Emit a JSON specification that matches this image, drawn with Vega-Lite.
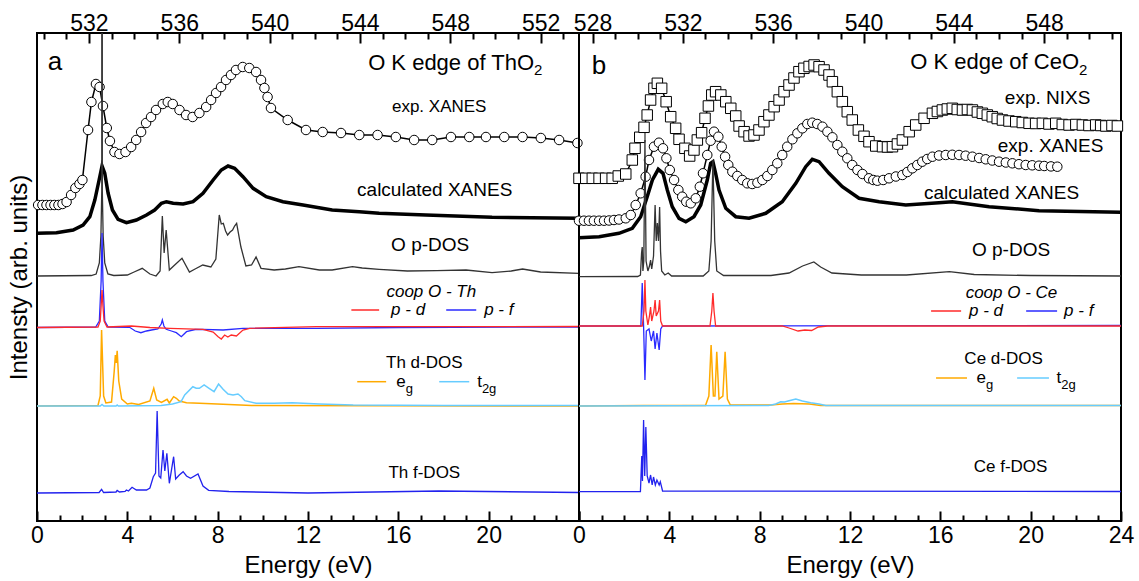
{
"$schema": "https://vega.github.io/schema/vega-lite/v6.json",
"padding": {"left": 6, "top": 7, "right": 3, "bottom": 2},
"spacing": 0,
"bounds": "flush",
"config": {
  "font": "Liberation Sans",
  "view": {"stroke": "black", "strokeWidth": 2},
  "axis": {"labelFont": "Liberation Sans", "titleFont": "Liberation Sans", "labelColor": "black", "titleColor": "black", "tickColor": "black", "tickWidth": 2, "domain": false, "grid": false, "labelFlush": false, "labelOverlap": false, "labelFontSize": 23, "titleFontSize": 24, "titleFontWeight": "normal"}
},
"resolve": {"scale": {"x": "independent", "y": "independent", "color": "independent"}},
"datasets": {
  "Th_exp": [{"E":0.05,"Y":316},{"E":0.24,"Y":316},{"E":0.42,"Y":316},{"E":0.6,"Y":316},{"E":0.77,"Y":316},{"E":0.95,"Y":316},{"E":1.13,"Y":317},{"E":1.31,"Y":319},{"E":1.51,"Y":326},{"E":1.7,"Y":333},{"E":1.88,"Y":337},{"E":2.01,"Y":341},{"E":2.26,"Y":391},{"E":2.41,"Y":419},{"E":2.61,"Y":437},{"E":2.77,"Y":434},{"E":2.92,"Y":415},{"E":3.09,"Y":393},{"E":3.23,"Y":380},{"E":3.43,"Y":369},{"E":3.65,"Y":367},{"E":3.92,"Y":369},{"E":4.17,"Y":374},{"E":4.39,"Y":381},{"E":4.61,"Y":389},{"E":4.83,"Y":398},{"E":5.05,"Y":404},{"E":5.27,"Y":411},{"E":5.57,"Y":417},{"E":5.79,"Y":419},{"E":6.01,"Y":417},{"E":6.31,"Y":411},{"E":6.6,"Y":406},{"E":6.89,"Y":404},{"E":7.19,"Y":408},{"E":7.49,"Y":414},{"E":7.71,"Y":421},{"E":7.93,"Y":428},{"E":8.15,"Y":434},{"E":8.37,"Y":441},{"E":8.59,"Y":446},{"E":8.81,"Y":451},{"E":9.11,"Y":454},{"E":9.4,"Y":453},{"E":9.7,"Y":449},{"E":9.92,"Y":441},{"E":10.07,"Y":433},{"E":10.21,"Y":424},{"E":10.36,"Y":413},{"E":11.1,"Y":401},{"E":11.91,"Y":391},{"E":12.65,"Y":389},{"E":13.46,"Y":388},{"E":14.27,"Y":386},{"E":15.08,"Y":386},{"E":15.89,"Y":384},{"E":16.7,"Y":381},{"E":17.5,"Y":381},{"E":18.33,"Y":384},{"E":19.14,"Y":384},{"E":19.88,"Y":384},{"E":20.69,"Y":384},{"E":21.5,"Y":384},{"E":22.31,"Y":383},{"E":23.12,"Y":381},{"E":23.93,"Y":378}],
  "Th_calc": [{"E":0,"Y":287.7},{"E":0.86,"Y":288.3},{"E":1.6,"Y":291},{"E":2.04,"Y":296},{"E":2.34,"Y":304.3},{"E":2.56,"Y":321},{"E":2.75,"Y":341},{"E":2.88,"Y":355},{"E":3.0,"Y":347.7},{"E":3.15,"Y":327.7},{"E":3.34,"Y":311},{"E":3.59,"Y":301.7},{"E":3.96,"Y":298.3},{"E":4.4,"Y":301},{"E":4.85,"Y":306},{"E":5.21,"Y":311},{"E":5.51,"Y":317.7},{"E":5.73,"Y":319.3},{"E":6.03,"Y":317.7},{"E":6.47,"Y":317},{"E":6.91,"Y":319.3},{"E":7.35,"Y":327.7},{"E":7.8,"Y":341},{"E":8.16,"Y":351},{"E":8.46,"Y":355},{"E":8.75,"Y":352.7},{"E":9.12,"Y":344.3},{"E":9.57,"Y":332.7},{"E":10.15,"Y":324.3},{"E":10.89,"Y":319.3},{"E":11.78,"Y":316},{"E":13.07,"Y":311},{"E":14.27,"Y":309.3},{"E":15.15,"Y":307.7},{"E":17.22,"Y":306},{"E":20.15,"Y":303.7},{"E":24,"Y":302.7}],
  "Th_op": [{"E":0,"Y":245},{"E":2.4,"Y":245.5},{"E":2.62,"Y":247},{"E":2.76,"Y":258},{"E":2.83,"Y":285},{"E":2.868,"Y":330},{"E":2.88,"Y":3000},{"E":2.892,"Y":330},{"E":2.93,"Y":285},{"E":3.0,"Y":258},{"E":3.14,"Y":247},{"E":3.4,"Y":245.5},{"E":4.0,"Y":246},{"E":4.3,"Y":249},{"E":4.66,"Y":252.7},{"E":5.0,"Y":247},{"E":5.27,"Y":245},{"E":5.45,"Y":250},{"E":5.55,"Y":305},{"E":5.63,"Y":268},{"E":5.72,"Y":291},{"E":5.86,"Y":251},{"E":6.05,"Y":255},{"E":6.42,"Y":262.7},{"E":6.75,"Y":249},{"E":7.0,"Y":252},{"E":7.34,"Y":256},{"E":7.7,"Y":254},{"E":7.92,"Y":262},{"E":8.07,"Y":306},{"E":8.16,"Y":297},{"E":8.25,"Y":297.7},{"E":8.35,"Y":290},{"E":8.44,"Y":286},{"E":8.55,"Y":289},{"E":8.66,"Y":291},{"E":8.75,"Y":295},{"E":8.84,"Y":297.7},{"E":9.03,"Y":274},{"E":9.25,"Y":255},{"E":9.5,"Y":256},{"E":9.7,"Y":264},{"E":9.92,"Y":252.7},{"E":10.5,"Y":251},{"E":11.0,"Y":252},{"E":11.6,"Y":254.3},{"E":12.5,"Y":251},{"E":13.07,"Y":251},{"E":13.97,"Y":254.3},{"E":14.4,"Y":253},{"E":15.15,"Y":251.7},{"E":16.4,"Y":250},{"E":17.7,"Y":250.3},{"E":19.0,"Y":251},{"E":20.15,"Y":248.3},{"E":21.0,"Y":250},{"E":21.5,"Y":252},{"E":22.3,"Y":249},{"E":24,"Y":247.7}],
  "Th_pf": [{"E":0,"Y":193.5},{"E":2.6,"Y":194},{"E":2.76,"Y":200},{"E":2.84,"Y":240},{"E":2.88,"Y":288},{"E":2.92,"Y":240},{"E":3.0,"Y":200},{"E":3.15,"Y":194},{"E":4.1,"Y":193.7},{"E":4.35,"Y":190},{"E":4.6,"Y":188.3},{"E":4.85,"Y":190},{"E":5.07,"Y":191},{"E":5.35,"Y":192},{"E":5.5,"Y":197},{"E":5.55,"Y":201},{"E":5.62,"Y":195},{"E":5.72,"Y":191.7},{"E":5.95,"Y":190},{"E":6.17,"Y":188.3},{"E":6.39,"Y":184.3},{"E":6.62,"Y":189.3},{"E":7.0,"Y":191.5},{"E":7.35,"Y":191.7},{"E":8.24,"Y":191},{"E":9.12,"Y":192.7},{"E":12.37,"Y":192.7},{"E":16,"Y":193.5},{"E":24,"Y":194}],
  "Th_pd": [{"E":0,"Y":193.5},{"E":2.7,"Y":194},{"E":2.8,"Y":200},{"E":2.84,"Y":215},{"E":2.88,"Y":231},{"E":2.92,"Y":215},{"E":2.97,"Y":200},{"E":3.1,"Y":194},{"E":4.18,"Y":195},{"E":5.0,"Y":193.5},{"E":5.88,"Y":192.7},{"E":7.35,"Y":191.7},{"E":7.8,"Y":189},{"E":8.02,"Y":184.3},{"E":8.16,"Y":182},{"E":8.31,"Y":186},{"E":8.45,"Y":184},{"E":8.6,"Y":186},{"E":8.83,"Y":185},{"E":9.12,"Y":191},{"E":9.42,"Y":192.7},{"E":12.37,"Y":194.3},{"E":24,"Y":194.5}],
  "Th_eg": [{"E":0,"Y":115},{"E":2.7,"Y":115.5},{"E":2.8,"Y":125},{"E":2.86,"Y":191},{"E":2.95,"Y":125},{"E":3.05,"Y":118},{"E":3.3,"Y":119},{"E":3.42,"Y":150},{"E":3.47,"Y":166},{"E":3.51,"Y":158},{"E":3.55,"Y":170.3},{"E":3.62,"Y":140},{"E":3.75,"Y":122},{"E":4.0,"Y":117},{"E":4.18,"Y":117.7},{"E":4.5,"Y":116.5},{"E":5.0,"Y":120},{"E":5.17,"Y":132.7},{"E":5.3,"Y":121},{"E":5.51,"Y":118.5},{"E":5.76,"Y":121.7},{"E":5.86,"Y":118},{"E":6.05,"Y":124.3},{"E":6.17,"Y":122.7},{"E":6.3,"Y":120},{"E":6.62,"Y":118.3},{"E":7.2,"Y":117.7},{"E":8.24,"Y":116.7},{"E":9.5,"Y":115.5},{"E":24,"Y":115}],
  "Th_t2g": [{"E":0,"Y":115},{"E":2.8,"Y":115},{"E":2.88,"Y":116.5},{"E":2.96,"Y":115},{"E":3.5,"Y":115},{"E":3.55,"Y":116},{"E":3.6,"Y":115},{"E":5.5,"Y":115.5},{"E":6.0,"Y":117},{"E":6.38,"Y":119.3},{"E":6.54,"Y":126},{"E":6.9,"Y":134.3},{"E":7.05,"Y":132.7},{"E":7.19,"Y":132.7},{"E":7.4,"Y":136},{"E":7.62,"Y":132.7},{"E":7.84,"Y":129.3},{"E":8.04,"Y":137},{"E":8.24,"Y":131.7},{"E":8.46,"Y":127},{"E":8.68,"Y":126},{"E":8.9,"Y":127},{"E":9.05,"Y":124.3},{"E":9.2,"Y":120.3},{"E":9.7,"Y":117.7},{"E":10.5,"Y":117.7},{"E":11.3,"Y":118.3},{"E":12.5,"Y":117},{"E":14,"Y":116},{"E":18,"Y":115.5},{"E":24,"Y":115.5}],
  "Th_f": [{"E":0,"Y":28},{"E":2.75,"Y":28.5},{"E":2.86,"Y":31.7},{"E":2.95,"Y":28.5},{"E":3.5,"Y":29},{"E":3.55,"Y":30.5},{"E":3.65,"Y":29},{"E":3.9,"Y":29.5},{"E":3.96,"Y":31},{"E":4.05,"Y":30},{"E":4.21,"Y":33.7},{"E":4.4,"Y":31},{"E":4.85,"Y":31},{"E":5.0,"Y":33},{"E":5.15,"Y":44.3},{"E":5.25,"Y":48},{"E":5.32,"Y":110},{"E":5.4,"Y":45},{"E":5.48,"Y":43},{"E":5.58,"Y":71},{"E":5.66,"Y":50},{"E":5.75,"Y":67.7},{"E":5.86,"Y":37.7},{"E":6.05,"Y":64.3},{"E":6.14,"Y":42},{"E":6.3,"Y":46},{"E":6.47,"Y":49.3},{"E":6.62,"Y":45},{"E":6.8,"Y":42.7},{"E":7.13,"Y":47},{"E":7.35,"Y":35},{"E":7.6,"Y":30.7},{"E":8.5,"Y":29.5},{"E":12,"Y":28},{"E":17.8,"Y":30},{"E":24,"Y":28.5}],
  "Ce_nixs": [{"E":0,"Y":342.7},{"E":0.3,"Y":342.7},{"E":0.59,"Y":342.7},{"E":0.89,"Y":342.7},{"E":1.18,"Y":342.7},{"E":1.47,"Y":342.7},{"E":1.74,"Y":345},{"E":2.07,"Y":347},{"E":2.36,"Y":361},{"E":2.48,"Y":372.7},{"E":2.69,"Y":383.7},{"E":2.88,"Y":393.7},{"E":3.02,"Y":406},{"E":3.17,"Y":421},{"E":3.32,"Y":432.7},{"E":3.47,"Y":437.7},{"E":3.66,"Y":432.7},{"E":3.86,"Y":419.3},{"E":4.06,"Y":404.3},{"E":4.28,"Y":392.7},{"E":4.43,"Y":381.7},{"E":4.69,"Y":372.7},{"E":4.9,"Y":365},{"E":5.09,"Y":371},{"E":5.24,"Y":381},{"E":5.43,"Y":388.3},{"E":5.58,"Y":402.7},{"E":5.73,"Y":415},{"E":5.88,"Y":426},{"E":6.05,"Y":429.3},{"E":6.28,"Y":426},{"E":6.5,"Y":419.3},{"E":6.72,"Y":412.7},{"E":6.94,"Y":405},{"E":7.09,"Y":395},{"E":7.31,"Y":389.3},{"E":7.53,"Y":385},{"E":7.75,"Y":386},{"E":7.97,"Y":391},{"E":8.19,"Y":399.3},{"E":8.41,"Y":406},{"E":8.64,"Y":414.3},{"E":8.86,"Y":421},{"E":9.08,"Y":429.3},{"E":9.3,"Y":436},{"E":9.52,"Y":443},{"E":9.74,"Y":449.3},{"E":9.96,"Y":452.7},{"E":10.19,"Y":454.5},{"E":10.41,"Y":456},{"E":10.63,"Y":454.3},{"E":10.85,"Y":451},{"E":11.07,"Y":446},{"E":11.22,"Y":439.3},{"E":11.44,"Y":429.3},{"E":11.66,"Y":419.3},{"E":11.88,"Y":409.3},{"E":12.1,"Y":401},{"E":12.37,"Y":391},{"E":12.62,"Y":384.7},{"E":12.84,"Y":379.3},{"E":13.14,"Y":375},{"E":13.44,"Y":374.3},{"E":13.66,"Y":374},{"E":13.88,"Y":374.3},{"E":14.1,"Y":377},{"E":14.32,"Y":381},{"E":14.62,"Y":389.3},{"E":14.91,"Y":396},{"E":15.28,"Y":402.7},{"E":15.65,"Y":407.7},{"E":15.87,"Y":409.5},{"E":16.09,"Y":411},{"E":16.31,"Y":412},{"E":16.53,"Y":412.7},{"E":16.75,"Y":411.5},{"E":16.98,"Y":411},{"E":17.2,"Y":411.5},{"E":17.42,"Y":411},{"E":17.64,"Y":409},{"E":17.86,"Y":407.7},{"E":18.08,"Y":406},{"E":18.3,"Y":404.3},{"E":18.52,"Y":402.5},{"E":18.75,"Y":401},{"E":19.04,"Y":400},{"E":19.34,"Y":399.3},{"E":19.63,"Y":398.5},{"E":19.93,"Y":397.7},{"E":20.22,"Y":397.5},{"E":20.52,"Y":397.7},{"E":20.81,"Y":397},{"E":21.11,"Y":397.7},{"E":21.4,"Y":396.5},{"E":21.7,"Y":396},{"E":22.0,"Y":396.5},{"E":22.29,"Y":396},{"E":22.58,"Y":395.5},{"E":22.88,"Y":396},{"E":23.1,"Y":395.5},{"E":23.33,"Y":395},{"E":23.6,"Y":395.5},{"E":23.84,"Y":395}],
  "Ce_exp": [{"E":0,"Y":300.3},{"E":0.22,"Y":300.3},{"E":0.44,"Y":300.3},{"E":0.66,"Y":300.3},{"E":0.89,"Y":300.3},{"E":1.11,"Y":300.3},{"E":1.33,"Y":300.5},{"E":1.55,"Y":301},{"E":1.77,"Y":301.5},{"E":2.07,"Y":302.7},{"E":2.29,"Y":306},{"E":2.51,"Y":316},{"E":2.73,"Y":327.7},{"E":2.95,"Y":344.3},{"E":3.1,"Y":361},{"E":3.32,"Y":374.3},{"E":3.54,"Y":378.3},{"E":3.72,"Y":372.7},{"E":3.87,"Y":362.7},{"E":4.02,"Y":351},{"E":4.21,"Y":341},{"E":4.4,"Y":331},{"E":4.57,"Y":324.3},{"E":4.75,"Y":319.3},{"E":4.95,"Y":317.7},{"E":5.17,"Y":322.7},{"E":5.35,"Y":334.3},{"E":5.49,"Y":347.7},{"E":5.68,"Y":366},{"E":5.83,"Y":380.3},{"E":5.98,"Y":389.3},{"E":6.17,"Y":384.3},{"E":6.32,"Y":374.3},{"E":6.47,"Y":364.3},{"E":6.61,"Y":356},{"E":6.79,"Y":349.3},{"E":7.01,"Y":345},{"E":7.23,"Y":341},{"E":7.45,"Y":337.7},{"E":7.67,"Y":337},{"E":7.9,"Y":338.3},{"E":8.12,"Y":341},{"E":8.34,"Y":345},{"E":8.56,"Y":351},{"E":8.78,"Y":357.7},{"E":9.0,"Y":366},{"E":9.22,"Y":374.3},{"E":9.45,"Y":381.7},{"E":9.67,"Y":387.7},{"E":9.89,"Y":392.7},{"E":10.11,"Y":397},{"E":10.33,"Y":398.3},{"E":10.55,"Y":397},{"E":10.78,"Y":394.3},{"E":11.0,"Y":389.3},{"E":11.22,"Y":383.7},{"E":11.44,"Y":376},{"E":11.66,"Y":369.3},{"E":11.88,"Y":362.7},{"E":12.1,"Y":356},{"E":12.33,"Y":351},{"E":12.55,"Y":347},{"E":12.84,"Y":342.7},{"E":13.03,"Y":341},{"E":13.21,"Y":340.3},{"E":13.47,"Y":341},{"E":13.73,"Y":342.7},{"E":14.03,"Y":344.5},{"E":14.32,"Y":346},{"E":14.54,"Y":349},{"E":14.76,"Y":352.7},{"E":14.98,"Y":356},{"E":15.2,"Y":359.3},{"E":15.42,"Y":362},{"E":15.65,"Y":364.3},{"E":15.94,"Y":365.5},{"E":16.24,"Y":366},{"E":16.53,"Y":366.2},{"E":16.83,"Y":366},{"E":17.12,"Y":365.3},{"E":17.42,"Y":364.3},{"E":17.72,"Y":363},{"E":18.01,"Y":361.7},{"E":18.3,"Y":360.5},{"E":18.6,"Y":359.3},{"E":18.9,"Y":358.5},{"E":19.19,"Y":357.7},{"E":19.48,"Y":356.8},{"E":19.78,"Y":356},{"E":20.07,"Y":355.7},{"E":20.37,"Y":355.3},{"E":20.6,"Y":355},{"E":20.9,"Y":354.6},{"E":21.18,"Y":354.3}],
  "Ce_calc": [{"E":0,"Y":283.3},{"E":0.89,"Y":284.3},{"E":1.77,"Y":287.7},{"E":2.36,"Y":292.7},{"E":2.73,"Y":304.3},{"E":3.02,"Y":324.3},{"E":3.25,"Y":341},{"E":3.51,"Y":351.7},{"E":3.72,"Y":347.7},{"E":3.91,"Y":331},{"E":4.13,"Y":314.3},{"E":4.43,"Y":302.7},{"E":4.73,"Y":299.3},{"E":5.09,"Y":304.3},{"E":5.39,"Y":316},{"E":5.68,"Y":341},{"E":5.83,"Y":357.7},{"E":5.93,"Y":359.3},{"E":6.05,"Y":347.7},{"E":6.2,"Y":331},{"E":6.5,"Y":312.7},{"E":6.94,"Y":304.3},{"E":7.53,"Y":302.7},{"E":8.27,"Y":307.7},{"E":9.0,"Y":319.3},{"E":9.6,"Y":337.7},{"E":10.04,"Y":354.3},{"E":10.33,"Y":361.7},{"E":10.63,"Y":359.3},{"E":11.07,"Y":347.7},{"E":11.66,"Y":334.3},{"E":12.4,"Y":322.7},{"E":13.29,"Y":319.3},{"E":14.47,"Y":316},{"E":15.94,"Y":318.3},{"E":16.53,"Y":319.3},{"E":18.16,"Y":314.3},{"E":20.37,"Y":310.3},{"E":24,"Y":308.7}],
  "Ce_op": [{"E":0,"Y":244.3},{"E":2.6,"Y":244.5},{"E":2.72,"Y":246},{"E":2.77,"Y":268},{"E":2.8,"Y":274},{"E":2.83,"Y":250},{"E":2.87,"Y":260},{"E":2.92,"Y":381},{"E":2.97,"Y":260},{"E":3.05,"Y":250},{"E":3.12,"Y":255},{"E":3.17,"Y":261},{"E":3.22,"Y":252},{"E":3.3,"Y":265},{"E":3.37,"Y":316},{"E":3.42,"Y":280},{"E":3.47,"Y":298},{"E":3.52,"Y":280},{"E":3.57,"Y":314},{"E":3.61,"Y":270},{"E":3.66,"Y":250},{"E":3.8,"Y":246},{"E":3.95,"Y":248},{"E":4.1,"Y":245},{"E":5.5,"Y":245},{"E":5.75,"Y":250},{"E":5.85,"Y":280},{"E":5.93,"Y":361},{"E":6.01,"Y":280},{"E":6.1,"Y":250},{"E":6.4,"Y":245.5},{"E":8.5,"Y":245.5},{"E":9.3,"Y":248},{"E":9.9,"Y":255},{"E":10.4,"Y":259},{"E":10.7,"Y":254},{"E":11.2,"Y":248},{"E":12.5,"Y":246},{"E":14.5,"Y":246},{"E":16.4,"Y":249.3},{"E":17.5,"Y":246.5},{"E":20,"Y":245.5},{"E":24,"Y":245}],
  "Ce_pd": [{"E":0,"Y":195},{"E":2.8,"Y":195},{"E":2.88,"Y":210},{"E":2.92,"Y":241},{"E":2.96,"Y":210},{"E":3.05,"Y":196},{"E":3.12,"Y":205},{"E":3.17,"Y":214},{"E":3.22,"Y":200},{"E":3.32,"Y":210},{"E":3.37,"Y":221},{"E":3.42,"Y":205},{"E":3.52,"Y":210},{"E":3.57,"Y":221},{"E":3.62,"Y":200},{"E":3.7,"Y":195},{"E":5.8,"Y":195},{"E":5.88,"Y":210},{"E":5.93,"Y":228},{"E":5.98,"Y":210},{"E":6.05,"Y":195},{"E":9.0,"Y":195},{"E":9.3,"Y":193},{"E":9.7,"Y":190},{"E":10.0,"Y":191},{"E":10.3,"Y":190.5},{"E":10.6,"Y":194},{"E":11,"Y":195},{"E":24,"Y":195}],
  "Ce_pf": [{"E":0,"Y":195},{"E":2.74,"Y":195},{"E":2.8,"Y":238},{"E":2.86,"Y":195},{"E":2.92,"Y":141},{"E":2.98,"Y":190},{"E":3.1,"Y":192},{"E":3.2,"Y":180},{"E":3.3,"Y":190},{"E":3.37,"Y":172},{"E":3.45,"Y":188},{"E":3.55,"Y":171},{"E":3.62,"Y":192},{"E":3.7,"Y":195},{"E":24,"Y":195.5}],
  "Ce_eg": [{"E":0,"Y":115},{"E":2.9,"Y":115.5},{"E":5.6,"Y":115.5},{"E":5.75,"Y":125},{"E":5.85,"Y":176},{"E":5.95,"Y":125},{"E":6.02,"Y":125},{"E":6.1,"Y":169.3},{"E":6.2,"Y":122},{"E":6.37,"Y":125},{"E":6.47,"Y":169.3},{"E":6.57,"Y":122},{"E":6.7,"Y":116},{"E":8.5,"Y":116},{"E":9.0,"Y":117},{"E":9.5,"Y":117.5},{"E":10.2,"Y":117},{"E":10.7,"Y":115.5},{"E":24,"Y":115.5}],
  "Ce_t2g": [{"E":0,"Y":115},{"E":8.4,"Y":115.5},{"E":8.71,"Y":117},{"E":8.93,"Y":119.3},{"E":9.1,"Y":119},{"E":9.3,"Y":120.3},{"E":9.6,"Y":122},{"E":9.89,"Y":120},{"E":10.26,"Y":118.3},{"E":10.63,"Y":117},{"E":10.93,"Y":115.5},{"E":24,"Y":115.5}],
  "Ce_f": [{"E":0,"Y":29.3},{"E":2.72,"Y":29.5},{"E":2.78,"Y":65},{"E":2.81,"Y":40},{"E":2.86,"Y":101},{"E":2.91,"Y":45},{"E":2.96,"Y":94},{"E":3.02,"Y":45},{"E":3.1,"Y":38},{"E":3.17,"Y":46},{"E":3.24,"Y":36},{"E":3.3,"Y":44},{"E":3.38,"Y":36},{"E":3.45,"Y":41},{"E":3.55,"Y":36},{"E":3.6,"Y":39.3},{"E":3.7,"Y":30},{"E":24,"Y":29.5}]
},
"hconcat": [
 {
  "width": 542, "height": 488,
  "resolve": {"scale": {"x": "independent"}},
  "layer": [
   {
    "encoding": {
     "x": {"field": "E", "type": "quantitative", "scale": {"domain": [0, 24], "nice": false, "zero": false},
       "axis": {"orient": "bottom", "values": [0,1,2,3,4,5,6,7,8,9,10,11,12,13,14,15,16,17,18,19,20,21,22,23,24], "labelExpr": "datum.value % 4 === 0 && datum.value < 24 ? format(datum.value, 'd') : ''", "tickSize": {"condition": {"test": "datum.value % 4 === 0", "value": -10}, "value": -6}, "labelPadding": 13.3, "title": "Energy (eV)", "titlePadding": 2}},
     "y": {"field": "Y", "type": "quantitative", "scale": {"domain": [0, 488], "nice": false, "zero": false},
       "axis": {"title": "Intensty (arb. units)", "labels": false, "ticks": false, "titlePadding": 6}}
    },
    "layer": [
     {"data": {"name": "Th_exp"}, "mark": {"type": "line", "color": "black", "strokeWidth": 1.5}},
     {"data": {"name": "Th_exp"}, "mark": {"type": "point", "shape": "circle", "filled": true, "fill": "white", "stroke": "black", "strokeWidth": 1, "size": 90, "opacity": 1}},
     {"data": {"name": "Th_calc"}, "mark": {"type": "line", "color": "black", "strokeWidth": 3.5}},
     {"data": {"name": "Th_op"}, "mark": {"type": "line", "color": "#333333", "strokeWidth": 1.3, "clip": true}},
     {"data": {"name": "Th_pf"}, "mark": {"type": "line", "color": "#2a2aff", "strokeWidth": 1.3}},
     {"data": {"name": "Th_pd"}, "mark": {"type": "line", "color": "#ff2a2a", "strokeWidth": 1.3}},
     {"data": {"name": "Th_eg"}, "mark": {"type": "line", "color": "#ffaa00", "strokeWidth": 1.5}},
     {"data": {"name": "Th_t2g"}, "mark": {"type": "line", "color": "#66ccff", "strokeWidth": 1.5}},
     {"data": {"name": "Th_f"}, "mark": {"type": "line", "color": "#2222ee", "strokeWidth": 1.3}},
     {"data": {"values": [{"E":13.92,"E2":15.15,"Y":211,"s":"p-d"},{"E":18.12,"E2":19.45,"Y":211,"s":"p-f"},{"E":14.18,"E2":15.46,"Y":139.3,"s":"eg"},{"E":17.81,"E2":19.14,"Y":139.3,"s":"t2g"}]},
      "mark": {"type": "rule", "strokeWidth": 1.5},
      "encoding": {"x2": {"field": "E2"}, "color": {"field": "s", "type": "nominal", "scale": {"domain": ["p-d","p-f","eg","t2g"], "range": ["#ff2a2a","#2a2aff","#ffaa00","#66ccff"]}, "legend": null}}},
     {"data": {"values": [{"E":0.8,"Y":459.5,"t":"a"}]}, "mark": {"type": "text", "fontSize": 26, "align": "center", "baseline": "middle", "color": "black"}, "encoding": {"text": {"field": "t"}}},
     {"data": {"values": [{"E":22.01,"Y":458.5,"t":"O K edge of ThO"}]}, "mark": {"type": "text", "fontSize": 22, "align": "right", "baseline": "middle", "color": "black"}, "encoding": {"text": {"field": "t"}}},
     {"data": {"values": [{"E":22.01,"Y":451,"t":"2"}]}, "mark": {"type": "text", "fontSize": 15, "align": "left", "baseline": "middle", "color": "black"}, "encoding": {"text": {"field": "t"}}},
     {"data": {"values": [{"E":17.61,"Y":331,"t":"calculated XANES"},{"E":17.41,"Y":276,"t":"O p-DOS"}]}, "mark": {"type": "text", "fontSize": 19, "align": "center", "baseline": "middle", "color": "black"}, "encoding": {"text": {"field": "t"}}},
     {"data": {"values": [{"E":17.81,"Y":414,"t":"exp. XANES"},{"E":17.15,"Y":158,"t":"Th d-DOS"},{"E":17.15,"Y":48,"t":"Th f-DOS"}]}, "mark": {"type": "text", "fontSize": 17, "align": "center", "baseline": "middle", "color": "black"}, "encoding": {"text": {"field": "t"}}},
     {"data": {"values": [{"E":17.46,"Y":229.3,"t":"coop O - Th"}]}, "mark": {"type": "text", "fontSize": 17, "fontStyle": "italic", "align": "center", "baseline": "middle", "color": "black"}, "encoding": {"text": {"field": "t"}}},
     {"data": {"values": [{"E":15.68,"Y":211,"t":"p - d"},{"E":19.8,"Y":211,"t":"p - f"}]}, "mark": {"type": "text", "fontSize": 17, "fontStyle": "italic", "align": "left", "baseline": "middle", "color": "black"}, "encoding": {"text": {"field": "t"}}},
     {"data": {"values": [{"E":16.33,"Y":139,"t":"e"},{"E":19.7,"Y":139,"t":"t"}]}, "mark": {"type": "text", "fontSize": 17, "align": "right", "baseline": "middle", "color": "black"}, "encoding": {"text": {"field": "t"}}},
     {"data": {"values": [{"E":16.33,"Y":132.5,"t":"g"},{"E":19.7,"Y":132.5,"t":"2g"}]}, "mark": {"type": "text", "fontSize": 13, "align": "left", "baseline": "middle", "color": "black"}, "encoding": {"text": {"field": "t"}}}
    ]
   },
   {
    "data": {"values": [{"P": 540}]},
    "mark": {"type": "rule", "opacity": 0},
    "encoding": {"x": {"field": "P", "type": "quantitative", "scale": {"domain": [529.7, 553.7], "nice": false, "zero": false},
      "axis": {"orient": "top", "values": [530,531,532,533,534,535,536,537,538,539,540,541,542,543,544,545,546,547,548,549,550,551,552,553], "labelExpr": "datum.value % 4 === 0 ? format(datum.value, 'd') : ''", "tickSize": {"condition": {"test": "datum.value % 4 === 0", "value": -10}, "value": -6}, "labelPadding": 7.5, "title": null}}}
   }
  ]
 },
 {
  "width": 542, "height": 488,
  "resolve": {"scale": {"x": "independent"}},
  "layer": [
   {
    "encoding": {
     "x": {"field": "E", "type": "quantitative", "scale": {"domain": [0, 24], "nice": false, "zero": false},
       "axis": {"orient": "bottom", "values": [0,1,2,3,4,5,6,7,8,9,10,11,12,13,14,15,16,17,18,19,20,21,22,23,24], "labelExpr": "datum.value % 4 === 0 ? format(datum.value, 'd') : ''", "tickSize": {"condition": {"test": "datum.value % 4 === 0", "value": -10}, "value": -6}, "labelPadding": 13.3, "title": "Energy (eV)", "titlePadding": 2}},
     "y": {"field": "Y", "type": "quantitative", "scale": {"domain": [0, 488], "nice": false, "zero": false}, "axis": null}
    },
    "layer": [
     {"data": {"name": "Ce_nixs"}, "mark": {"type": "line", "color": "black", "strokeWidth": 1.5}},
     {"data": {"name": "Ce_nixs"}, "mark": {"type": "point", "shape": "square", "filled": true, "fill": "white", "stroke": "black", "strokeWidth": 1, "size": 110, "opacity": 1}},
     {"data": {"name": "Ce_exp"}, "mark": {"type": "line", "color": "black", "strokeWidth": 1.5}},
     {"data": {"name": "Ce_exp"}, "mark": {"type": "point", "shape": "circle", "filled": true, "fill": "white", "stroke": "black", "strokeWidth": 1, "size": 90, "opacity": 1}},
     {"data": {"name": "Ce_calc"}, "mark": {"type": "line", "color": "black", "strokeWidth": 3.5}},
     {"data": {"name": "Ce_op"}, "mark": {"type": "line", "color": "#333333", "strokeWidth": 1.3, "clip": true}},
     {"data": {"name": "Ce_pf"}, "mark": {"type": "line", "color": "#2a2aff", "strokeWidth": 1.3}},
     {"data": {"name": "Ce_pd"}, "mark": {"type": "line", "color": "#ff2a2a", "strokeWidth": 1.3}},
     {"data": {"name": "Ce_eg"}, "mark": {"type": "line", "color": "#ffaa00", "strokeWidth": 1.5}},
     {"data": {"name": "Ce_t2g"}, "mark": {"type": "line", "color": "#66ccff", "strokeWidth": 1.5}},
     {"data": {"name": "Ce_f"}, "mark": {"type": "line", "color": "#2222ee", "strokeWidth": 1.3}},
     {"data": {"values": [{"E":15.59,"E2":16.92,"Y":210,"s":"p-d"},{"E":19.8,"E2":21.17,"Y":210,"s":"p-f"},{"E":15.81,"E2":17.18,"Y":143,"s":"eg"},{"E":19.4,"E2":20.81,"Y":143,"s":"t2g"}]},
      "mark": {"type": "rule", "strokeWidth": 1.5},
      "encoding": {"x2": {"field": "E2"}, "color": {"field": "s", "type": "nominal", "scale": {"domain": ["p-d","p-f","eg","t2g"], "range": ["#ff2a2a","#2a2aff","#ffaa00","#66ccff"]}, "legend": null}}},
     {"data": {"values": [{"E":0.89,"Y":455.5,"t":"b"}]}, "mark": {"type": "text", "fontSize": 26, "align": "center", "baseline": "middle", "color": "black"}, "encoding": {"text": {"field": "t"}}},
     {"data": {"values": [{"E":22.14,"Y":459,"t":"O K edge of CeO"}]}, "mark": {"type": "text", "fontSize": 22, "align": "right", "baseline": "middle", "color": "black"}, "encoding": {"text": {"field": "t"}}},
     {"data": {"values": [{"E":22.14,"Y":451,"t":"2"}]}, "mark": {"type": "text", "fontSize": 15, "align": "left", "baseline": "middle", "color": "black"}, "encoding": {"text": {"field": "t"}}},
     {"data": {"values": [{"E":20.75,"Y":423.3,"t":"exp. NIXS"},{"E":20.88,"Y":375,"t":"exp. XANES"},{"E":18.71,"Y":328.3,"t":"calculated XANES"},{"E":19.13,"Y":271,"t":"O p-DOS"}]}, "mark": {"type": "text", "fontSize": 19, "align": "center", "baseline": "middle", "color": "black"}, "encoding": {"text": {"field": "t"}}},
     {"data": {"values": [{"E":18.8,"Y":161.7,"t":"Ce d-DOS"},{"E":19.11,"Y":54.3,"t":"Ce f-DOS"}]}, "mark": {"type": "text", "fontSize": 17, "align": "center", "baseline": "middle", "color": "black"}, "encoding": {"text": {"field": "t"}}},
     {"data": {"values": [{"E":19.15,"Y":227.7,"t":"coop O - Ce"}]}, "mark": {"type": "text", "fontSize": 17, "fontStyle": "italic", "align": "center", "baseline": "middle", "color": "black"}, "encoding": {"text": {"field": "t"}}},
     {"data": {"values": [{"E":17.27,"Y":210,"t":"p - d"},{"E":21.48,"Y":210,"t":"p - f"}]}, "mark": {"type": "text", "fontSize": 17, "fontStyle": "italic", "align": "left", "baseline": "middle", "color": "black"}, "encoding": {"text": {"field": "t"}}},
     {"data": {"values": [{"E":18.02,"Y":143,"t":"e"},{"E":21.35,"Y":143,"t":"t"}]}, "mark": {"type": "text", "fontSize": 17, "align": "right", "baseline": "middle", "color": "black"}, "encoding": {"text": {"field": "t"}}},
     {"data": {"values": [{"E":18.02,"Y":136,"t":"g"},{"E":21.35,"Y":136,"t":"2g"}]}, "mark": {"type": "text", "fontSize": 13, "align": "left", "baseline": "middle", "color": "black"}, "encoding": {"text": {"field": "t"}}}
    ]
   },
   {
    "data": {"values": [{"P": 540}]},
    "mark": {"type": "rule", "opacity": 0},
    "encoding": {"x": {"field": "P", "type": "quantitative", "scale": {"domain": [527.4, 551.4], "nice": false, "zero": false},
      "axis": {"orient": "top", "values": [528,529,530,531,532,533,534,535,536,537,538,539,540,541,542,543,544,545,546,547,548,549,550,551], "labelExpr": "datum.value % 4 === 0 ? format(datum.value, 'd') : ''", "tickSize": {"condition": {"test": "datum.value % 4 === 0", "value": -10}, "value": -6}, "labelPadding": 7.5, "title": null}}}
   }
  ]
 }
]
}
